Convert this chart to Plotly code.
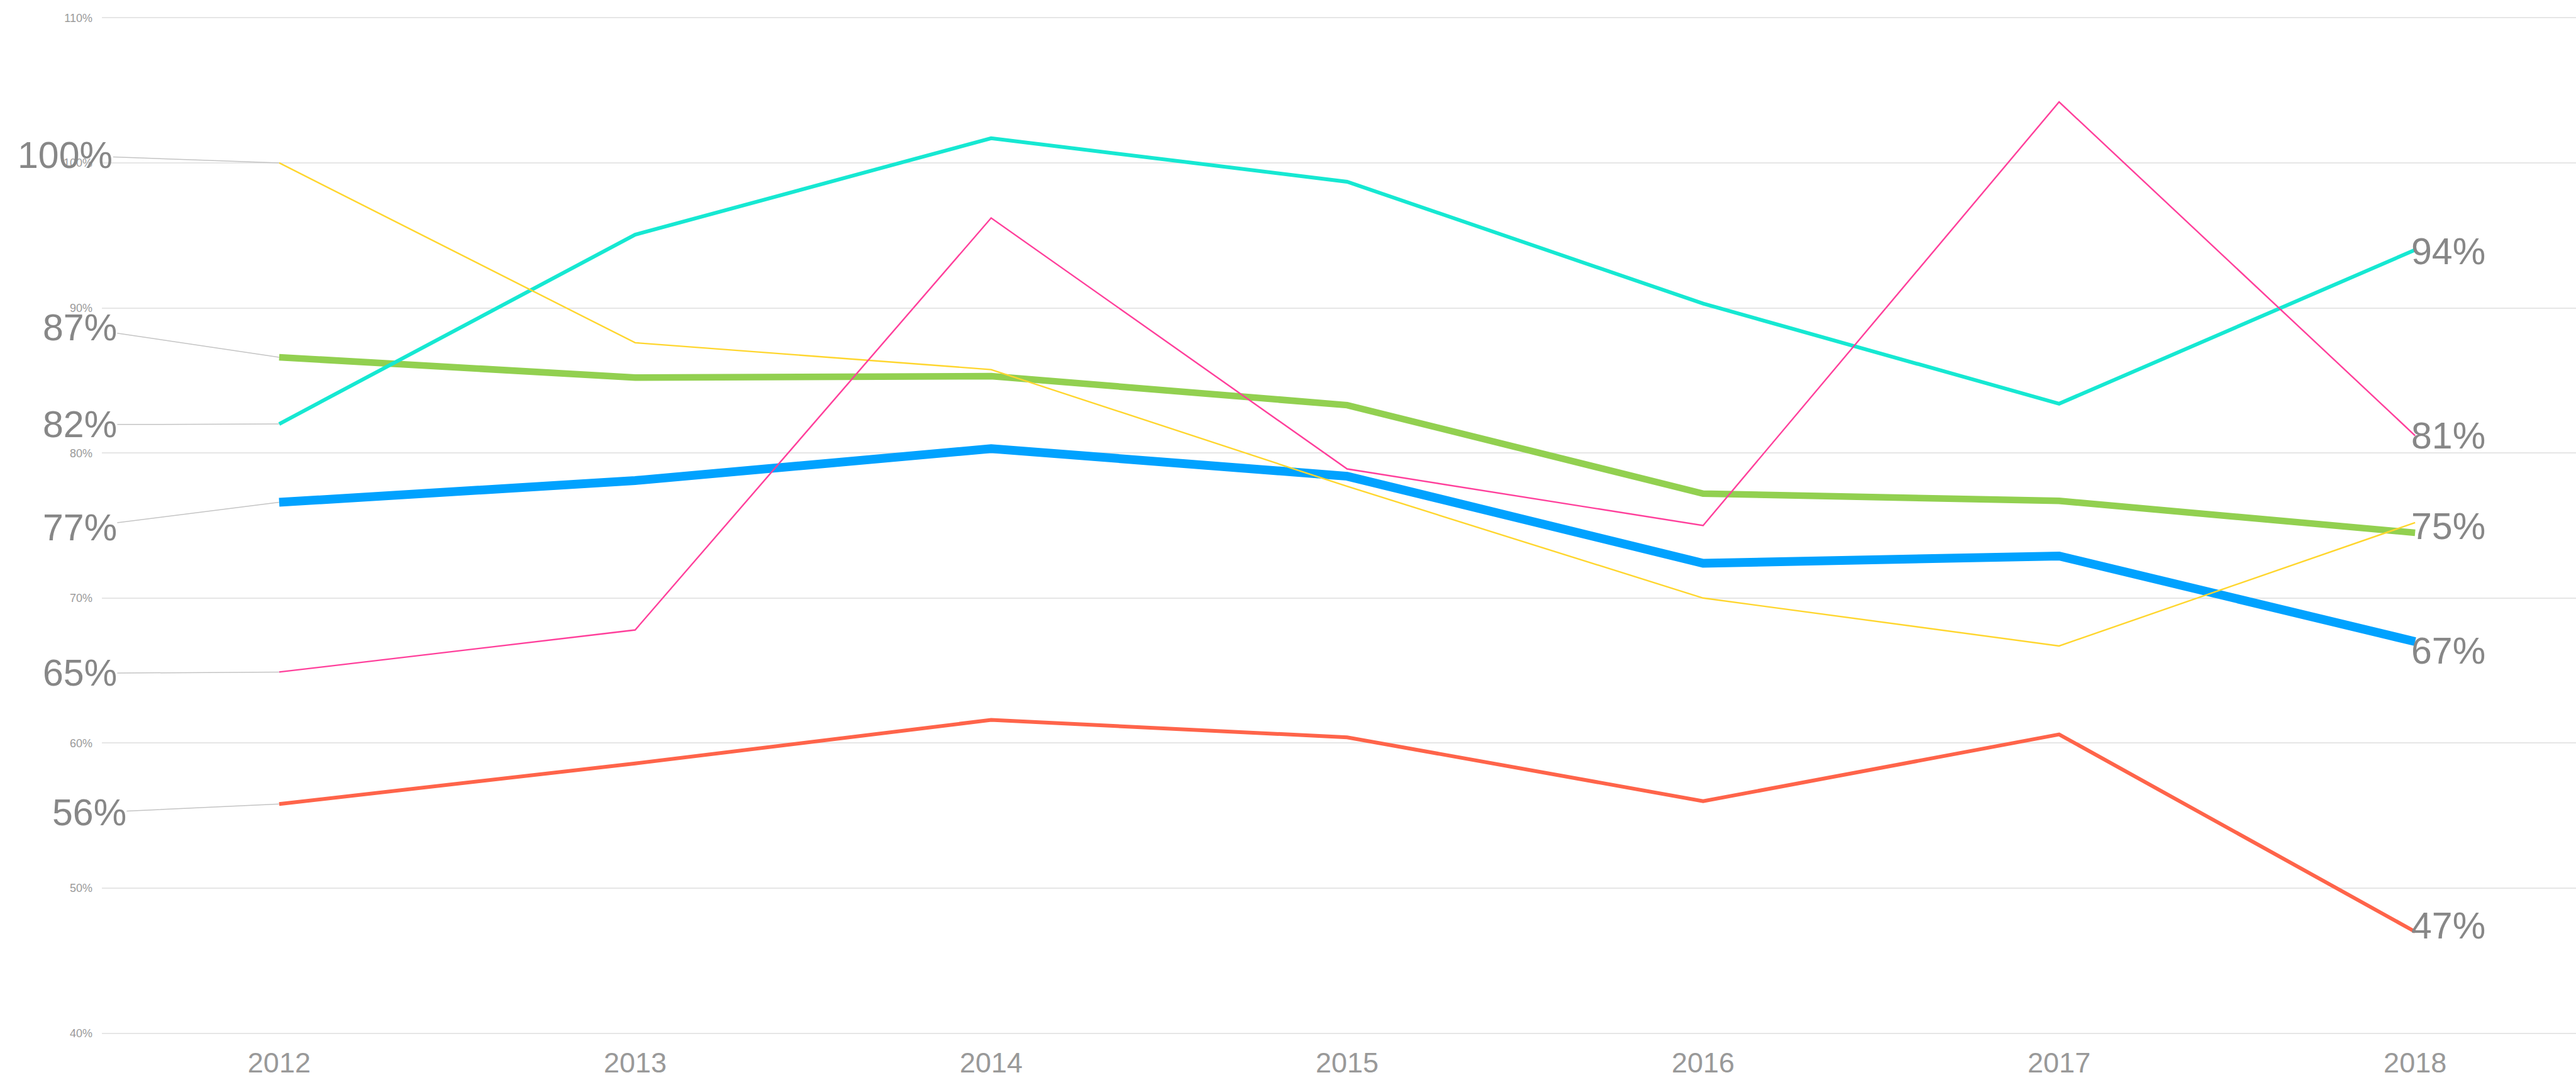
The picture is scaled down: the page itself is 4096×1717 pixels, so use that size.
import plotly.graph_objects as go

years = [2012, 2013, 2014, 2015, 2016, 2017, 2018]

cyan_vals = [82.0, 95.05, 101.7, 98.7, 90.3, 83.4, 94.0]
green_vals = [86.6, 85.2, 85.3, 83.3, 77.2, 76.7, 74.5]
blue_vals = [76.6, 78.1, 80.3, 78.4, 72.4, 72.9, 67.0]
pink_vals = [64.9, 67.8, 96.2, 78.9, 75.0, 104.2, 81.2]
yellow_vals = [100.0, 87.6, 85.75, 77.7, 70.0, 66.7, 75.2]
red_vals = [55.8, 58.6, 61.6, 60.4, 56.0, 60.6, 47.0]

y_ticks = [40, 50, 60, 70, 80, 90, 100, 110]

# name, values, color, width, left-label offset (px), right label?, right yshift
series = [
    ("blue", blue_vals, "#00A2FF", 14, (-317, 40), True, -15),
    ("green", green_vals, "#92D050", 10.5, (-317, -47), False, 0),
    ("cyan", cyan_vals, "#16E8D2", 6, (-317, 1), True, -3),
    ("red", red_vals, "#FF644A", 6, (-302, 14), True, 9),
    ("yellow", yellow_vals, "#FFD62E", 2.4, (-340, -12), True, -6),
    ("pink", pink_vals, "#FF3F9B", 2.4, (-317, 2), True, 0),
]

FONT = "Liberation Sans, Arial, sans-serif"
LABEL_COLOR = "#878787"
LABEL_SIZE = 59

fig = go.Figure()
annotations = []
for name, vals, color, width, (ax, ay), show_right, yshift in series:
    fig.add_trace(go.Scatter(
        x=years, y=vals, mode="lines", name=name,
        line=dict(color=color, width=width),
        hoverinfo="skip", showlegend=False,
    ))
    annotations.append(dict(
        x=years[0], y=vals[0], xref="x", yref="y",
        text=f"{round(vals[0])}%", showarrow=True, arrowhead=0,
        arrowwidth=1.5, arrowcolor="#c4c4c4", ax=ax, ay=ay,
        font=dict(family=FONT, size=LABEL_SIZE, color=LABEL_COLOR),
        standoff=0, startstandoff=0, borderpad=0,
    ))
    if show_right:
        annotations.append(dict(
            x=years[-1], y=vals[-1], xref="x", yref="y",
            text=f"{round(vals[-1])}%", showarrow=False,
            xanchor="left", yanchor="middle", xshift=-8, yshift=yshift,
            font=dict(family=FONT, size=LABEL_SIZE, color=LABEL_COLOR),
        ))

fig.update_layout(
    width=4096, height=1717,
    margin=dict(l=162, r=0, t=26, b=72),
    paper_bgcolor="white", plot_bgcolor="white",
    annotations=annotations,
    font=dict(family=FONT),
)
fig.update_xaxes(
    range=[2011.502, 2018.452], tickmode="array", tickvals=years,
    ticktext=[str(y) for y in years], showgrid=False, zeroline=False,
    showline=False, ticks="", tickfont=dict(family=FONT, size=45, color="#999999"),
    ticklabelstandoff=14, automargin=False,
)
fig.update_yaxes(
    range=[39.9, 110.1], tickmode="array", tickvals=y_ticks,
    ticktext=[f"{v}%" for v in y_ticks], showgrid=True, gridcolor="#E6E6E6",
    gridwidth=1.5, zeroline=False, showline=False, ticks="",
    tickfont=dict(family=FONT, size=18, color="#9a9a9a"),
    ticklabelstandoff=14, automargin=False,
)

fig.write_html(
    "out.html",
    config={"displayModeBar": False},
    post_script="document.body.style.margin='0';document.body.style.padding='0';",
)
